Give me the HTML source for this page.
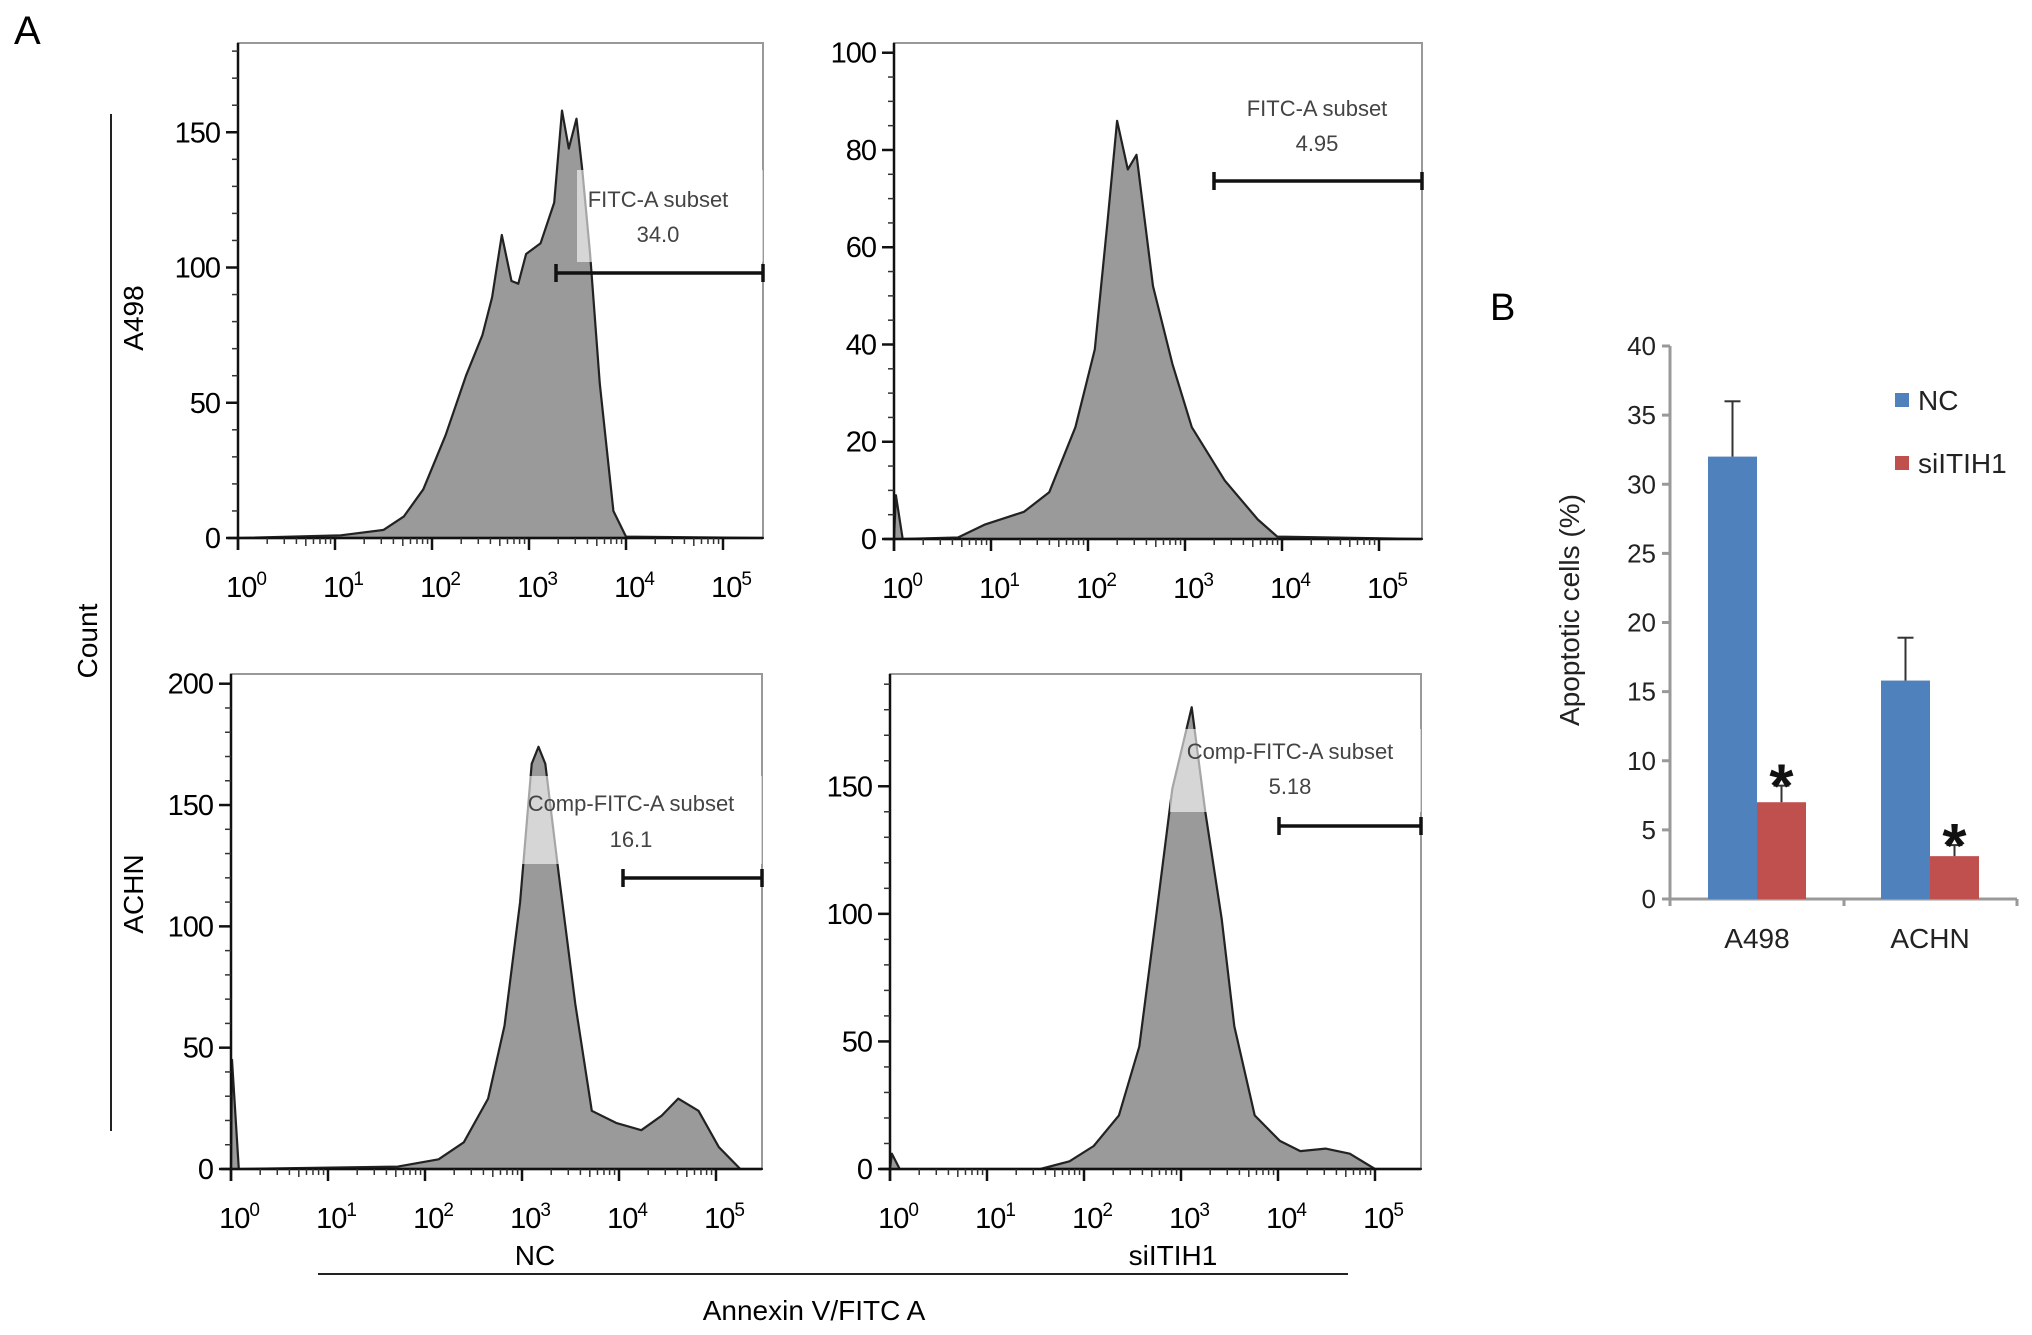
<!DOCTYPE html>
<html><head><meta charset="utf-8">
<style>
body{margin:0;background:#fff;}
svg{display:block;font-family:"Liberation Sans",sans-serif;}
</style></head>
<body>
<svg id="fig" width="2032" height="1335" viewBox="0 0 2032 1335">
<text x="14" y="44" font-size="40">A</text>
<text x="1490" y="320" font-size="38">B</text>
<line x1="111" y1="114" x2="111" y2="1131" stroke="#222" stroke-width="2"/>
<text transform="translate(97,641) rotate(-90)" text-anchor="middle" font-size="28">Count</text>
<text transform="translate(143,318) rotate(-90)" text-anchor="middle" font-size="28">A498</text>
<text transform="translate(143,894) rotate(-90)" text-anchor="middle" font-size="28">ACHN</text>
<line x1="318" y1="1274" x2="1348" y2="1274" stroke="#222" stroke-width="2"/>
<text x="535" y="1265" text-anchor="middle" font-size="28">NC</text>
<text x="1173" y="1265" text-anchor="middle" font-size="28">siITIH1</text>
<text x="814" y="1320" text-anchor="middle" font-size="28">Annexin V/FITC A</text>
<g id="hists"></g>
<g id="bars"></g>
</svg>
<script>
// ---- Histogram data (x in log10 decades, y = count) ----
const tlX=[0,1.06,1.5,1.71,1.91,2.14,2.35,2.52,2.62,2.72,2.82,2.89,2.97,3.12,3.26,3.34,3.41,3.49,3.55,3.63,3.73,3.87,4.0,5.46];
const tlY=[0,1,3,8,18,38,60,75,89,112,95,94,105,109,124,158,144,155,136,105,57,10,0.5,0];
const trX=[0,0.02,0.09,0.66,0.94,1.34,1.6,1.87,2.07,2.2,2.3,2.41,2.5,2.67,2.87,3.07,3.41,3.75,3.95,5.46];
const trY=[0,9,0,0.3,3,5.6,9.6,23,39,65,86,76,79,52,36,23,12,4,0.5,0];
const blX=[0,0.01,0.08,1.72,2.14,2.4,2.65,2.82,2.98,3.1,3.17,3.24,3.38,3.55,3.72,3.97,4.23,4.44,4.61,4.82,5.03,5.25,5.46];
const blY=[0,45,0,1,4,11,29,59,110,167,174,167,121,68,24,19,16,22,29,24,9,0,0];
const brX=[0,0.02,0.1,1.55,1.85,2.1,2.36,2.57,2.74,2.91,3.11,3.25,3.42,3.55,3.76,4.02,4.23,4.49,4.74,5.0,5.46];
const brY=[0,6,0,0,3,9,21,48,98,149,181,140,98,56,21,11,7,8,6,0,0];
const tlYTicks=[0,50,100,150];
const trYTicks=[0,20,40,60,80,100];
const blYTicks=[0,50,100,150,200];
const brYTicks=[0,50,100,150];
const xDecades=[0,1,2,3,4,5];
// ---- Bar chart data ----
const barCats=["A498","ACHN"];
const ncVals=[32,15.8];
const ncErr=[4,3.1];
const siVals=[7,3.1];
const siErr=[1.2,0.8];
const barTicks=[0,5,10,15,20,25,30,35,40];

const NS="http://www.w3.org/2000/svg";
function mk(tag,attrs,parent){const e=document.createElementNS(NS,tag);for(const k in attrs)e.setAttribute(k,attrs[k]);parent.appendChild(e);return e;}

function hist(name,L,R,T,B,ymax,xs,ys,yt,yminor,gate,labels,box){
  const g=mk('g',{},document.getElementById('hists'));
  
  
  const dec=97;
  const sx=d=>L+d*dec;
  const sy=v=>B-(v/ymax)*(B-T);
  const fr=mk('rect',{x:L,y:T,width:R-L,height:B-T,fill:'none',stroke:'#999','stroke-width':2},g);
  
  
  let d='M'+sx(xs[0])+','+sy(0);
  for(let i=0;i<xs.length;i++){d+=' L'+Math.min(sx(xs[i]),R).toFixed(1)+','+sy(ys[i]).toFixed(1);}
  d+=' L'+R+','+sy(0)+' Z';
  const p=mk('path',{d:d,fill:'#9a9a9a',stroke:'#222','stroke-width':2.2,'stroke-linejoin':'round'},g);
  
  
  const bx=mk('rect',{x:box[0],y:box[1],width:box[2]-box[0],height:box[3]-box[1],fill:'#fff',opacity:0.6},g);
  
  
  mk('line',{x1:L,y1:T,x2:L,y2:B+12,stroke:'#111','stroke-width':2.5},g);
  mk('line',{x1:L-10,y1:B,x2:R,y2:B,stroke:'#111','stroke-width':2.5},g);
  for(let v=0;v<=ymax;v+=yminor){mk('line',{x1:L-6,y1:sy(v),x2:L,y2:sy(v),stroke:'#333','stroke-width':1.5},g);}
  yt.forEach(v=>{
    mk('line',{x1:L-12,y1:sy(v),x2:L,y2:sy(v),stroke:'#111','stroke-width':2.5},g);
    const t=mk('text',{x:L-18,y:sy(v)+10,'text-anchor':'end','font-size':29,'letter-spacing':-1},g);
    t.textContent=v;
    
    
  });
  xDecades.forEach(k=>{
    mk('line',{x1:sx(k),y1:B,x2:sx(k),y2:B+12,stroke:'#111','stroke-width':2.5},g);
    if(k<5){for(let m=2;m<10;m++){const xx=sx(k+Math.log10(m));mk('line',{x1:xx,y1:B,x2:xx,y2:B+(m==5?8:6),stroke:'#333','stroke-width':1.5},g);}}
    const t=mk('text',{x:sx(k)+8,y:B+59,'text-anchor':'middle','font-size':29,'letter-spacing':-1},g);
    t.innerHTML='10<tspan dy="-12" font-size="19">'+k+'</tspan>';
    
    
  });
  const gl=mk('g',{stroke:'#111','stroke-width':3.5},g);
  
  
  mk('line',{x1:gate[0],y1:gate[2],x2:gate[1],y2:gate[2]},gl);
  mk('line',{x1:gate[0],y1:gate[2]-9,x2:gate[0],y2:gate[2]+9},gl);
  mk('line',{x1:gate[1],y1:gate[2]-9,x2:gate[1],y2:gate[2]+9},gl);
  const t1=mk('text',{x:labels[0],y:labels[1],'text-anchor':'middle','font-size':22,fill:'#444'},g);
  t1.textContent=labels[2];
  
  
  const t2=mk('text',{x:labels[0],y:labels[3],'text-anchor':'middle','font-size':22,fill:'#444'},g);
  t2.textContent=labels[4];
  
  
}
hist('hist-a498-nc',238,763,43,538,183,tlX,tlY,tlYTicks,10,[556,763,273],[658,207,'FITC-A subset',242,'34.0'],[577,170,763,262]);
hist('hist-a498-siitih1',894,1422,43,539,102,trX,trY,trYTicks,5,[1214,1422,181],[1317,116,'FITC-A subset',151,'4.95'],[1214,90,1214,90]);
hist('hist-achn-nc',231,762,674,1169,204,blX,blY,blYTicks,10,[623,762,878],[631,811,'Comp-FITC-A subset',847,'16.1'],[521,776,762,864]);
hist('hist-achn-siitih1',890,1421,674,1169,194,brX,brY,brYTicks,10,[1279,1421,826],[1290,759,'Comp-FITC-A subset',794,'5.18'],[1170,729,1421,812]);

// ---- Bar chart ----
(function(){
  const g=document.getElementById('bars');
  const AX=1670,AY=899,TOP=346,XR=2017;
  const sy=v=>AY-(v/40)*(AY-TOP);
  const catC=[1757,1930];
  const bw=49;
  mk('line',{x1:AX,y1:TOP,x2:AX,y2:AY,stroke:'#999','stroke-width':3},g);
  mk('line',{x1:AX,y1:AY,x2:XR,y2:AY,stroke:'#999','stroke-width':3},g);
  [AX,1844,XR].forEach(x=>mk('line',{x1:x,y1:AY,x2:x,y2:AY+7,stroke:'#999','stroke-width':3},g));
  barTicks.forEach(v=>{
    mk('line',{x1:AX-8,y1:sy(v),x2:AX,y2:sy(v),stroke:'#999','stroke-width':3},g);
    const t=mk('text',{x:AX-14,y:sy(v)+9,'text-anchor':'end','font-size':26,fill:'#222'},g);
    t.textContent=v;
    
    
  });
  barCats.forEach((c,i)=>{
    const cx=catC[i];
    const b1=mk('rect',{x:cx-bw,y:sy(ncVals[i]),width:bw,height:AY-sy(ncVals[i]),fill:'#4f81bd'},g);
    
    
    const b2=mk('rect',{x:cx,y:sy(siVals[i]),width:bw,height:AY-sy(siVals[i]),fill:'#c0504d'},g);
    
    
    const e1=sy(ncVals[i]+ncErr[i]), e2=sy(siVals[i]+siErr[i]);
    mk('line',{x1:cx-bw/2,y1:sy(ncVals[i]),x2:cx-bw/2,y2:e1,stroke:'#333','stroke-width':2},g);
    mk('line',{x1:cx-bw/2-8,y1:e1,x2:cx-bw/2+8,y2:e1,stroke:'#333','stroke-width':2},g);
    mk('line',{x1:cx+bw/2,y1:sy(siVals[i]),x2:cx+bw/2,y2:e2,stroke:'#333','stroke-width':2},g);
    mk('line',{x1:cx+bw/2-8,y1:e2,x2:cx+bw/2+8,y2:e2,stroke:'#333','stroke-width':2},g);
    const s=mk('text',{x:cx+bw/2,y:e2+22,'text-anchor':'middle','font-size':62,'font-weight':'bold',fill:'#111'},g);
    s.textContent='*';
    
    
    const t=mk('text',{x:cx,y:AY+49,'text-anchor':'middle','font-size':28,fill:'#222'},g);
    t.textContent=c;
    
    
  });
  const yt=mk('text',{transform:'translate(1579,610) rotate(-90)','text-anchor':'middle','font-size':28,fill:'#222'},g);
  yt.textContent='Apoptotic cells (%)';
  
  
  const l1=mk('rect',{x:1895,y:393,width:14,height:14,fill:'#4f81bd'},g);
  
  
  const lt1=mk('text',{x:1918,y:410,'font-size':28,fill:'#222'},g);
  lt1.textContent='NC';
  
  
  const l2=mk('rect',{x:1895,y:456,width:14,height:14,fill:'#c0504d'},g);
  
  
  const lt2=mk('text',{x:1918,y:473,'font-size':28,fill:'#222'},g);
  lt2.textContent='siITIH1';
  
  
})();
</script>
</body></html>
